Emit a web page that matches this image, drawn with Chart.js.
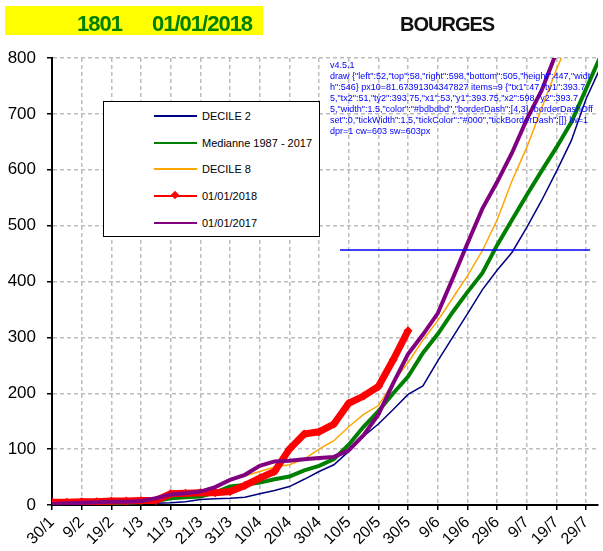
<!DOCTYPE html>
<html>
<head>
<meta charset="utf-8">
<script src="https://cdn.jsdelivr.net/npm/chart.js@4.4.1/dist/chart.umd.min.js"></script>
<style>
  body { margin: 0; background: #fff; font-family: "Liberation Sans", Arial, sans-serif; }
  .badge { position: absolute; left: 5px; top: 6px; width: 258px; height: 29px; background: #ffff00; }
  .badge span { position: absolute; top: 7px; line-height: 22px; color: #008000; font-weight: bold; font-size: 22px; letter-spacing: -1px; }
  .town { position: absolute; left: 400px; top: 14px; line-height: 20px; font-weight: bold; font-size: 20px; letter-spacing: -1px; color: #111; }
  #legend { position: absolute; left: 103px; top: 101px; width: 215px; height: 134px; border: 1.5px solid #000; background: #fff; }
  .row { position: absolute; left: 0; height: 14px; width: 100%; }
  .row .ln { position: absolute; left: 50px; top: 6px; width: 43px; height: 2px; }
  .row .mk { position: absolute; left: 68px; top: 3px; width: 6px; height: 6px; transform: rotate(45deg); }
  .row .tx { position: absolute; left: 98px; top: 0; font-size: 11px; line-height: 14px; color: #000; white-space: nowrap; }
  #dbg { position: absolute; left: 330px; top: 60px; width: 265px; font-size: 9px; line-height: 11px; white-space: pre-wrap; word-break: break-all; color: #00f; }
</style>
</head>
<body>
<canvas id="chart" width="603" height="551"></canvas>
<div class="badge"><span style="left:72px">1801</span><span style="left:147px">01/01/2018</span></div>
<div class="town">BOURGES</div>
<div id="legend"></div>
<div id="dbg"></div>
<script>
// days counted from 30/1
const tickDays = [0, 10, 20, 30, 40, 50, 60, 70, 80, 90, 100, 110, 120, 130, 140, 150, 160, 170, 180];
const tickLabels = ['30/1', '9/2', '19/2', '1/3', '11/3', '21/3', '31/3', '10/4', '20/4', '30/4',
  '10/5', '20/5', '30/5', '9/6', '19/6', '29/6', '9/7', '19/7', '29/7'];

const days = [0, 5, 10, 15, 20, 25, 30, 35, 40, 45, 50, 55, 60, 65, 70, 75, 80, 85, 90, 95,
  100, 105, 110, 115, 120, 125, 130, 135, 140, 145, 150, 155, 160, 165, 170, 175, 180, 185];

const decile2 = [0, 0, 1, 1, 2, 2, 3, 3, 4, 6, 10, 11, 12, 14, 20, 26, 33, 46, 60, 72,
  96, 123, 145, 171, 198, 213, 258, 300, 342, 385, 420, 452, 497, 545, 597, 652, 727, 785];
const mediane = [0, 1, 1, 2, 3, 4, 5, 7, 12, 14, 15, 22, 33, 36, 40, 46, 51, 62, 70, 82,
  108, 140, 168, 200, 230, 272, 306, 345, 381, 415, 465, 510, 555, 598, 640, 685, 745, 805];
const decile8 = [1, 2, 3, 4, 5, 6, 7, 9, 15, 18, 22, 32, 45, 52, 60, 68, 72, 82, 100, 115,
  140, 162, 178, 220, 255, 295, 330, 370, 410, 455, 510, 580, 640, 710, 780, 840];
const year2018 = [5, 5, 6, 6, 7, 7, 8, 8, 20, 21, 22, 22, 24, 35, 48, 60, 100, 127, 131, 145,
  182, 195, 212, 260, 312];
const year2017 = [2, 3, 4, 5, 6, 6, 7, 12, 19, 21, 24, 32, 45, 54, 70, 78, 79, 82, 84, 86,
  98, 125, 162, 218, 270, 305, 343, 405, 468, 530, 578, 630, 690, 742, 810];

const yMax = 800;

function toPoints(values) {
  return values.map((v, i) => ({ x: days[i], y: v }));
}

const series = [
  { label: 'DECILE 2', data: decile2, color: '#000080', width: 1.5, order: 5 },
  { label: 'Medianne 1987 - 2017', data: mediane, color: '#008000', width: 4, order: 4 },
  { label: 'DECILE 8', data: decile8, color: '#ffa500', width: 1.5, order: 3 },
  { label: '01/01/2018', data: year2018, color: '#ff0000', width: 7, order: 2, marker: true },
  { label: '01/01/2017', data: year2017, color: '#800080', width: 4, order: 1 }
];

const log = [];

const probe = {
  id: 'probe',
  afterDraw(chart) {
    const { ctx, chartArea: a, scales: { x, y } } = chart;
    ctx.save();
    ctx.strokeStyle = '#00f';
    ctx.lineWidth = 1.5;
    ctx.beginPath();
    ctx.moveTo(340, 250);
    ctx.lineTo(590, 250);
    ctx.stroke();
    ctx.restore();
    const items = y._gridLineItems || [];
    log.push('draw ' + JSON.stringify(a) + ' px10=' + x.getPixelForValue(10) +
      ' items=' + items.length + ' ' + JSON.stringify(items[2] || null) +
      ' lw=' + ctx.lineWidth + ' dpr=' + chart.currentDevicePixelRatio +
      ' cw=' + chart.canvas.width + ' sw=' + chart.canvas.style.width);
  }
};

function gridOpts() {
  return { color: '#bdbdbd', lineWidth: 1.5, tickColor: '#000', tickWidth: 1.5, tickLength: 5 };
}

const chart = new Chart(document.getElementById('chart').getContext('2d'), {
  type: 'line',
  data: {
    datasets: series.map(s => ({
      label: s.label,
      data: toPoints(s.data),
      borderColor: s.color,
      borderWidth: s.width,
      order: s.order,
      pointRadius: s.marker ? 4.5 : 0,
      pointStyle: 'rectRot',
      pointBorderWidth: 0,
      pointBackgroundColor: s.color
    }))
  },
  options: {
    responsive: false,
    animation: false,
    layout: { padding: { top: 58, right: 5, left: 0, bottom: 0 } },
    plugins: { legend: { display: false } },
    scales: {
      x: {
        type: 'linear',
        min: 0,
        max: 184,
        afterBuildTicks: axis => { axis.ticks = tickDays.map(v => ({ value: v })); },
        afterFit: scale => { scale.height = 46; },
        ticks: {
          autoSkip: false, minRotation: 45, maxRotation: 45, padding: 3, color: '#000',
          font: { size: 16 }, callback: (v, i) => tickLabels[i]
        },
        grid: gridOpts(),
        border: { color: '#000', width: 2, dash: [4, 3] }
      },
      y: {
        min: 0,
        max: yMax,
        afterFit: scale => { scale.width = 52; },
        ticks: { stepSize: 100, padding: 11, color: '#000', font: { size: 17 } },
        grid: gridOpts(),
        border: { color: '#000', width: 2, dash: [4, 3] }
      }
    }
  },
  plugins: [probe]
});

setTimeout(() => {
  document.getElementById('dbg').textContent = 'v' + Chart.version + '\n' + log.join('\n');
}, 50);

const legend = document.getElementById('legend');
const rowTops = [7, 34, 60, 87, 114];
series.forEach((s, i) => {
  const row = document.createElement('div');
  row.className = 'row';
  row.style.top = rowTops[i] + 'px';
  row.innerHTML = '<div class="ln" style="background:' + s.color + '"></div>' +
    (s.marker ? '<div class="mk" style="background:' + s.color + '"></div>' : '') +
    '<div class="tx">' + s.label + '</div>';
  legend.appendChild(row);
});
</script>
</body>
</html>
